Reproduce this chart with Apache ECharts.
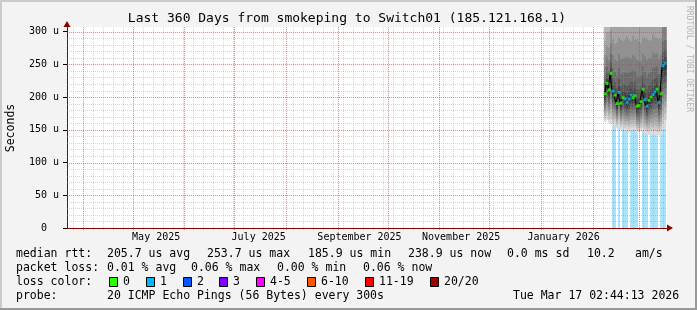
<!DOCTYPE html>
<html><head><meta charset="utf-8">
<script src="https://cdn.jsdelivr.net/npm/echarts@6/dist/echarts.min.js"></script>
<style>html,body{margin:0;padding:0;background:#f3f3f3;}#c{width:697px;height:310px;}</style>
</head><body><div id="c"></div>
<script>
// ---- data (x = days into the 360-day window) ----
const days = [322.8,324.0,325.2,326.4,327.6,328.8,330.0,331.2,332.4,333.6,334.8,336.0,337.2,338.4,339.6,340.8,342.0,343.2,344.4,345.6,346.8,348.0,349.2,350.4,351.6,352.8,354.0,355.2,356.4,357.6,358.8];
const median = [205,221,211,236,209,203,190,207,191,199,197,192,197,203,199,202,186,187,193,212,196,186,195,200,204,208,212,192,205,248,252];
const smokeLow = [162,165,160,158,155,158,152,155,150,152,148,150,146,148,150,150,145,146,148,147,145,143,142,144,142,143,140,142,143,150,155];
const smokeHigh = [370,380,390,420,430,420,450,440,460,440,450,470,450,430,460,440,470,460,440,430,460,470,450,440,460,440,430,460,440,480,470];
const medianLoss = [0,0,0,0,1,0,0,1,0,0,1,1,1,1,0,0,0,0,0,0,1,1,0,0,1,1,0,1,0,1,1];
const lossBar    = [0,0,0,0,1,1,0,1,0,1,1,1,0,1,1,1,1,0,0,1,1,1,0,1,1,1,1,0,1,1,1];
const monthStarts = [9.4,39.4,70.4,100.4,131.4,162.4,192.4,223.4,253.4,284.4,315.4,343.4];
const monthLabelPos = [53.5,115,175.5,236.5,298];
const monthLabels = ['May 2025','July 2025','September 2025','November 2025','January 2026'];
const yTicks = [0,50,100,150,200,250,300];
const lossColorNames = ['0','1','2','3','4-5','6-10','11-19','20/20'];
const lossColors = ['#26ff00','#00b8ff','#0059ff','#7e00ff','#ff00fe','#ff5500','#ff0000','#a10000'];
const statsRow1 = ['median rtt:','205.7 us avg','253.7 us max','185.9 us min','238.9 us now','0.0 ms sd','10.2','am/s'];
const statsRow2 = ['packet loss:','0.01 % avg','0.06 % max','0.00 % min','0.06 % now'];
const probeRow = ['probe:','20 ICMP Echo Pings (56 Bytes) every 300s','Tue Mar 17 02:44:13 2026'];
const titleText = 'Last 360 Days from smokeping to Switch01 (185.121.168.1)';

// ---- layout / style ----
const X_MAX = 360, Y_MAX = 307, COL = 1.2;
const MONO = '"DejaVu Sans Mono", monospace';
const row1X = [16,107,207,308,408,507,587,635];
const row2X = [16,107,191,277,363];
const row4X = [16,107,513];
const boxX = [109,146,183,219,256,307,365,430];
const MINOR = 'rgba(150,150,150,0.40)';
const MAJOR = 'rgba(240,40,40,0.5)';
const MAJOR_BG = 'rgba(255,80,80,0.10)';

const chart = echarts.init(document.getElementById('c'), null, {renderer:'canvas'});

const smokeData = days.map((d,i)=>[d, median[i], smokeLow[i], smokeHigh[i]]);
const lossData = days.map((d,i)=>[d, lossBar[i]]);
const medData = days.map((d,i)=>[d, median[i], medianLoss[i]]);

function csRect(params){ const c = params.coordSys; return {x:c.x, y:c.y, width:c.width, height:c.height}; }

function renderSmoke(params, api){
  const x = api.value(0), med = api.value(1), lo = api.value(2), hi = api.value(3);
  const w = api.size([COL,0])[0];
  const kids = [];
  for (let i=1;i<=10;i++){
    const fu = Math.pow((11-i)/10, 2), fd = (11-i)/10;
    const t = api.coord([x, med + (hi-med)*fu]);
    const b = api.coord([x, med - (med-lo)*fd]);
    const g = Math.round(190/10*(10-i)+50);
    const r = echarts.graphic.clipRectByRect({x:t[0]-w/2, y:t[1], width:w+0.4, height:b[1]-t[1]}, csRect(params));
    if (r) kids.push({type:'rect', shape:r, style:{fill:'rgb('+g+','+g+','+g+')'}});
  }
  return {type:'group', children:kids};
}
function renderLoss(params, api){
  if (!api.value(1)) return null;
  const x = api.value(0);
  const w = api.size([COL,0])[0];
  const b = api.coord([x, 0]);
  const c = params.coordSys;
  return {type:'rect', shape:{x:b[0]-w/2, y:c.y, width:w, height:b[1]-c.y}, style:{fill:'#a9e4fb'}};
}

// grid line values (rrdtool draws the grid on top of the data)
const vMinor = [];
for (let d=3.4; d<X_MAX; d+=6) { if (!monthStarts.some(m=>Math.abs(m-d)<0.8)) vMinor.push(d); }
const hMinor = [], hMajor = [];
for (let v=10; v<=300; v+=10) (v%50===0 ? hMajor : hMinor).push(v);

function renderGrid(params, api){
  if (params.dataIndex !== 0) return null;
  const c = params.coordSys;
  const kids = [];
  const vl = (d, color, dash) => { const x = Math.round(api.coord([d,0])[0]) + 0.5;
    kids.push({type:'line', shape:{x1:x, y1:c.y, x2:x, y2:c.y+c.height+3}, style:{stroke:color, lineWidth:1, lineDash:dash}}); };
  const hl = (v, color, dash) => { const y = Math.round(api.coord([0,v])[1]) + 0.5;
    kids.push({type:'line', shape:{x1:c.x, y1:y, x2:c.x+c.width, y2:y}, style:{stroke:color, lineWidth:1, lineDash:dash}}); };
  vMinor.forEach(d=>vl(d, MINOR, [1,1]));
  hMinor.forEach(v=>hl(v, MINOR, [1,1]));
  monthStarts.forEach(d=>{ vl(d, MAJOR_BG, null); vl(d, MAJOR, [1,1]); });
  hMajor.forEach(v=>{ hl(v, MAJOR_BG, null); hl(v, MAJOR, [1,1]); });
  return {type:'group', children:kids};
}

const graphics = [];
graphics.push({type:'rect', shape:{x:0,y:0,width:697,height:2}, style:{fill:'#cbcbcb'}, silent:true});
graphics.push({type:'rect', shape:{x:0,y:0,width:2,height:310}, style:{fill:'#cbcbcb'}, silent:true});
graphics.push({type:'rect', shape:{x:0,y:308,width:697,height:2}, style:{fill:'#999'}, silent:true});
graphics.push({type:'rect', shape:{x:695,y:0,width:2,height:310}, style:{fill:'#999'}, silent:true});
graphics.push({type:'text', x:347, y:19, style:{text:titleText, font:'13px '+MONO, fill:'#000', align:'center', verticalAlign:'middle'}});
graphics.push({type:'text', x:11, y:128, rotation:Math.PI/2, style:{text:'Seconds', font:'11.5px '+MONO, fill:'#000', align:'center', verticalAlign:'middle'}});
graphics.push({type:'text', x:689, y:59, rotation:-Math.PI/2, style:{text:'RRDTOOL / TOBI OETIKER', font:'8px '+MONO, fill:'#b4b4b4', align:'center', verticalAlign:'middle'}});
function addRow(texts, xs, y){ texts.forEach((t,i)=>graphics.push({type:'text', x:xs[i], y:y, style:{text:t, font:'11.5px '+MONO, fill:'#000', align:'left', verticalAlign:'middle'}})); }
addRow(statsRow1, row1X, 254);
addRow(statsRow2, row2X, 268);
addRow(['loss color:'], [16], 282);
lossColorNames.forEach((n,i)=>{
  graphics.push({type:'rect', shape:{x:boxX[i]+0.5, y:277.5, width:8, height:9}, style:{fill:lossColors[i], stroke:'#000', lineWidth:1}});
  graphics.push({type:'text', x:boxX[i]+14, y:282, style:{text:n, font:'11.5px '+MONO, fill:'#000', align:'left', verticalAlign:'middle'}});
});
addRow(probeRow, row4X, 296);

const option = {
  animation:false,
  backgroundColor:'#f3f3f3',
  grid:{left:67, top:27, width:600, height:201, show:true, backgroundColor:'#ffffff', borderWidth:0},
  xAxis:[
    {type:'value', min:0, max:X_MAX,
     axisLine:{show:true, onZero:false, lineStyle:{color:'#000', width:1}},
     axisTick:{show:false},
     axisLabel:{show:true, customValues:monthLabelPos, margin:4, fontFamily:MONO, fontSize:10, color:'#000',
       formatter:(v)=>{ const i = monthLabelPos.indexOf(v); return i>=0 ? monthLabels[i] : ''; }},
     splitLine:{show:false}},
    {type:'value', min:0, max:X_MAX, position:'bottom',
     axisLine:{show:true, onZero:false, symbol:['none','triangle'], symbolSize:[7,6], symbolOffset:[0,3], lineStyle:{color:'#8b0000', width:1}},
     axisTick:{show:false}, axisLabel:{show:false}, splitLine:{show:false}}
  ],
  yAxis:[
    {type:'value', min:0, max:Y_MAX, interval:50,
     axisLine:{show:true, onZero:false, lineStyle:{color:'#000', width:1}},
     axisTick:{show:true, length:4, customValues:yTicks, lineStyle:{color:'#000'}},
     axisLabel:{customValues:yTicks, margin:8, fontFamily:MONO, fontSize:10, color:'#000',
       formatter:(v)=> v===0 ? '0  ' : (yTicks.indexOf(v)>=0 ? v+' u' : '')},
     splitLine:{show:false}},
    {type:'value', min:0, max:Y_MAX, position:'left',
     axisLine:{show:true, onZero:false, symbol:['none','triangle'], symbolSize:[7,6], symbolOffset:[0,3], lineStyle:{color:'#8b0000', width:1}},
     axisTick:{show:false}, axisLabel:{show:false}, splitLine:{show:false}}
  ],
  series:[
    {type:'custom', name:'loss', z:1, renderItem:renderLoss, data:lossData, encode:{x:0,y:1}, silent:true},
    {type:'custom', name:'smoke', z:2, renderItem:renderSmoke, data:smokeData, encode:{x:0,y:[1,2,3]}, silent:true},
    {type:'custom', name:'gridlines', z:3, renderItem:renderGrid, data:[[0,0]], encode:{x:0,y:1}, silent:true},
    {type:'line', name:'median', z:10, data:medData.map(p=>[p[0],p[1]]), step:'middle', showSymbol:false, lineStyle:{color:'#000', width:1}, silent:true},
    {type:'scatter', name:'medianpts', z:11, data:medData, symbol:'rect', symbolSize:[3,3], silent:true,
     itemStyle:{color:(p)=>lossColors[p.value[2]]}}
  ],
  graphic:graphics
};
chart.setOption(option);
</script></body></html>
